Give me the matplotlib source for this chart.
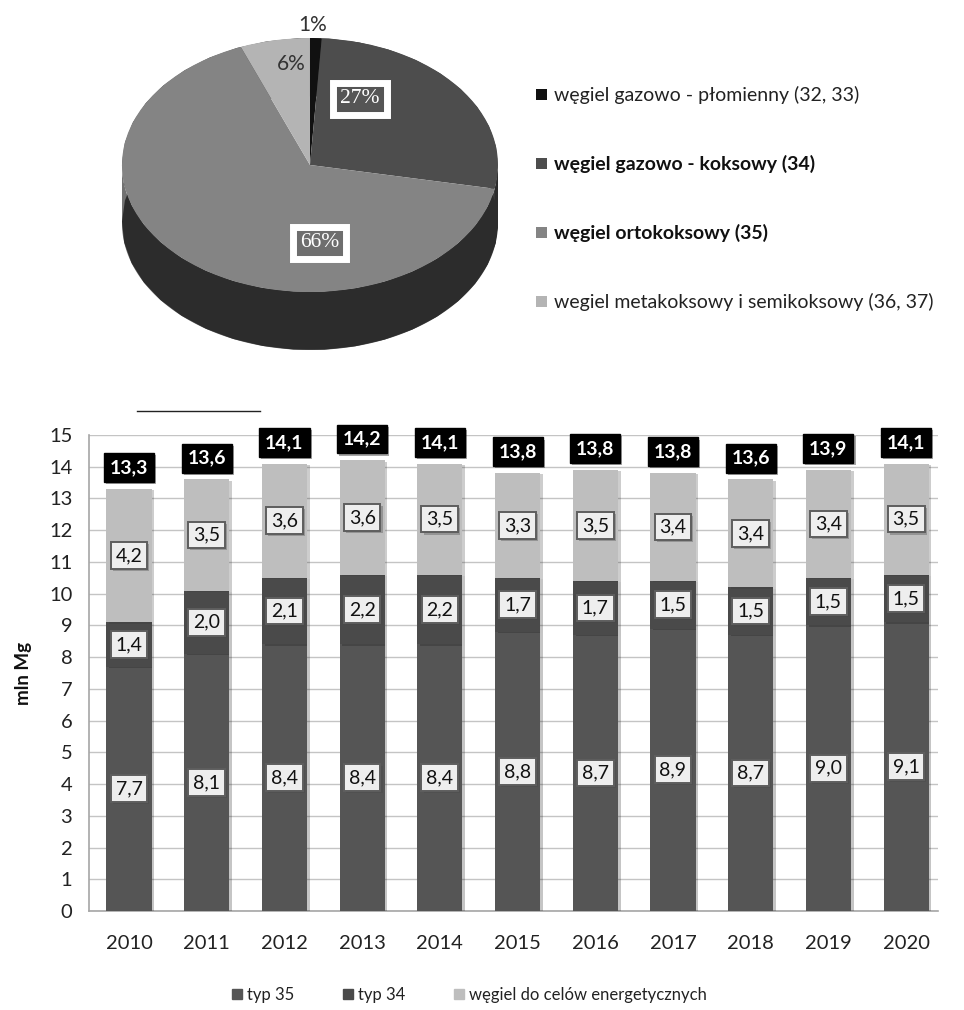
import matplotlib
matplotlib.use('Agg')
import matplotlib.pyplot as plt
import matplotlib.patheffects as pe
from matplotlib.patches import Polygon, Patch
from matplotlib.lines import Line2D
import numpy as np

plt.rcParams['font.family'] = ['Lato', 'DejaVu Sans']

# --- dane: wykres kolowy ---
pie_labels = ['węgiel gazowo - płomienny (32, 33)', 'węgiel gazowo - koksowy (34)',
              'węgiel ortokoksowy (35)', 'wegiel metakoksowy i semikoksowy (36, 37)']
pie_values = [1, 27, 66, 6]
pie_colors = ['#111111', '#4d4d4d', '#848484', '#b4b4b4']

# --- dane: wykres slupkowy ---
years = ['2010', '2011', '2012', '2013', '2014', '2015', '2016', '2017', '2018', '2019', '2020']
typ35 = [7.7, 8.1, 8.4, 8.4, 8.4, 8.8, 8.7, 8.9, 8.7, 9.0, 9.1]
typ34 = [1.4, 2.0, 2.1, 2.2, 2.2, 1.7, 1.7, 1.5, 1.5, 1.5, 1.5]
energ = [4.2, 3.5, 3.6, 3.6, 3.5, 3.3, 3.5, 3.4, 3.4, 3.4, 3.5]
totals = [13.3, 13.6, 14.1, 14.2, 14.1, 13.8, 13.8, 13.8, 13.6, 13.9, 14.1]
bar_names = ['typ 35', 'typ 34', 'węgiel do celów energetycznych']
bar_colors = ['#555555', '#4a4a4a', '#bebebe']

fig = plt.figure(figsize=(9.64, 10.10), dpi=100)

# ================= wykres kolowy (pseudo 3D) =================
ax1 = fig.add_axes([0.1037, 0.6337, 0.4357, 0.3663])
depth = 0.457
wedges, _ = ax1.pie(pie_values, colors=pie_colors, startangle=90, counterclock=False,
                    wedgeprops=dict(linewidth=0), radius=1)
for w in wedges:
    w.set_zorder(3)

# bok tortu
t = np.linspace(np.pi, 2 * np.pi, 200)
side_pts = np.vstack([np.c_[np.cos(t), np.sin(t)], np.c_[np.cos(t[::-1]), np.sin(t[::-1]) - depth]])
side = Polygon(side_pts, closed=True, fc='none', ec='none')
ax1.add_patch(side)
grad = np.linspace(0.45, 0.24, 256).reshape(1, -1)
img = ax1.imshow(grad, extent=(-1, 1, -1 - depth, 0), cmap='gray', vmin=0, vmax=1,
                 aspect='auto', zorder=1)
img.set_clip_path(side)
# bok pod wycinkiem 27%
b = np.cumsum([0] + pie_values) / 100.0 * 360.0
a_end = np.deg2rad(90 - b[2])
t2 = np.linspace(a_end, 2 * np.pi, 40)
side27 = np.vstack([np.c_[np.cos(t2), np.sin(t2)], np.c_[np.cos(t2[::-1]), np.sin(t2[::-1]) - depth]])
ax1.add_patch(Polygon(side27, closed=True, fc='#2c2c2c', ec='none', zorder=2))

ax1.set_aspect('auto')
ax1.set_xlim(-210 / 188, 210 / 188)
ax1.set_ylim(-205 / 127, 165 / 127)
ax1.axis('off')

pct_pos = [(0.016, 1.10), (0.266, 0.52), (0.053, -0.614), (-0.101, 0.795)]
for i, (v, (px, py)) in enumerate(zip(pie_values, pct_pos)):
    if i in (1, 2):
        fc = '#555555' if i == 1 else '#6e6e6e'
        tt = ax1.text(px, py, f'{v}%', ha='center', va='center', fontsize=15.5, color='white',
                      family='Liberation Serif', zorder=5,
                      bbox=dict(boxstyle='square,pad=0.32', fc=fc, ec='white', lw=5))
        tt.get_bbox_patch().set_path_effects([pe.SimplePatchShadow(offset=(1.5, -1.5), alpha=0.35),
                                              pe.Normal()])
    else:
        ax1.text(px, py, f'{v}%', ha='center', va='center', fontsize=15, color='#333333', zorder=5)

leg1 = fig.legend(wedges, pie_labels, loc='upper left', bbox_to_anchor=(0.538, 0.932),
                  frameon=False, fontsize=14, handlelength=0.55, handleheight=0.55,
                  handletextpad=0.35, labelspacing=2.62)
for i, txt in enumerate(leg1.get_texts()):
    txt.set_color('#222222')
    if i in (1, 2):
        txt.set_fontweight('bold')
        txt.set_color('#111111')

# artefakt nad wykresem
fig.add_artist(Line2D([137 / 964, 260 / 964], [1 - 411 / 1010] * 2, color='#222222', lw=1))

# ================= wykres slupkowy =================
ax2 = fig.add_axes([0.0923, 0.098, 0.8807, 0.4713])
x = np.arange(len(years))
w = 0.58
shadow = [pe.SimplePatchShadow(offset=(2, -1), alpha=0.25), pe.Normal()]
bottom34 = np.array(typ35)
bottom_en = bottom34 + np.array(typ34)
top = bottom_en + np.array(energ)
b1 = ax2.bar(x, typ35, w, color=bar_colors[0], zorder=3)
b2 = ax2.bar(x, typ34, w, bottom=bottom34, color=bar_colors[1], zorder=3)
b3 = ax2.bar(x, energ, w, bottom=bottom_en, color=bar_colors[2], zorder=3)
for cont in (b1, b2, b3):
    for r in cont:
        r.set_path_effects(shadow)

def fmt(v):
    return f'{v:.1f}'.replace('.', ',')

box_shadow = [pe.SimplePatchShadow(offset=(1.5, -1.5), alpha=0.35), pe.Normal()]
for i in x:
    for vals, bot in ((typ35, 0), (typ34, bottom34[i]), (energ, bottom_en[i])):
        t_ = ax2.text(i, bot + vals[i] / 2, fmt(vals[i]), ha='center', va='center',
                      fontsize=14, color='#111111', zorder=5,
                      bbox=dict(boxstyle='square,pad=0.25', fc='#eeeeee', ec='#5e5e5e', lw=1.4))
        t_.get_bbox_patch().set_path_effects(box_shadow)
    t_ = ax2.text(i, top[i] + 0.67, fmt(totals[i]), ha='center', va='center', fontsize=14,
                  color='white', fontweight='bold', zorder=5,
                  bbox=dict(boxstyle='square,pad=0.3', fc='black', ec='black', lw=1))
    t_.get_bbox_patch().set_path_effects(box_shadow)

ax2.set_xlim(-0.515, 10.41)
ax2.set_ylim(0, 15)
ax2.set_yticks(range(0, 16))
ax2.set_xticks(x)
ax2.set_xticklabels(years)
ax2.tick_params(axis='both', labelsize=14.5, colors='#222222', length=0)
ax2.tick_params(axis='x', pad=17)
ax2.tick_params(axis='y', pad=12)
ax2.grid(axis='y', color='#c4c4c4', lw=1, zorder=0)
ax2.set_axisbelow(True)
for s in ('top', 'right'):
    ax2.spines[s].set_visible(False)
for s in ('left', 'bottom'):
    ax2.spines[s].set_color('#a6a6a6')
    ax2.spines[s].set_linewidth(1.2)
ax2.set_ylabel('mln Mg', fontsize=13.5, fontweight='bold', color='#111111', labelpad=12)

handles = [Patch(color=c) for c in bar_colors]
fig.legend(handles, bar_names, loc='lower center', bbox_to_anchor=(0.487, -0.008), ncol=3,
           frameon=False, fontsize=12, handlelength=0.6, handleheight=0.6,
           handletextpad=0.3, columnspacing=2.9, labelcolor='#222222')

plt.savefig('out.png', dpi=100)
print('Saved: out.png')
